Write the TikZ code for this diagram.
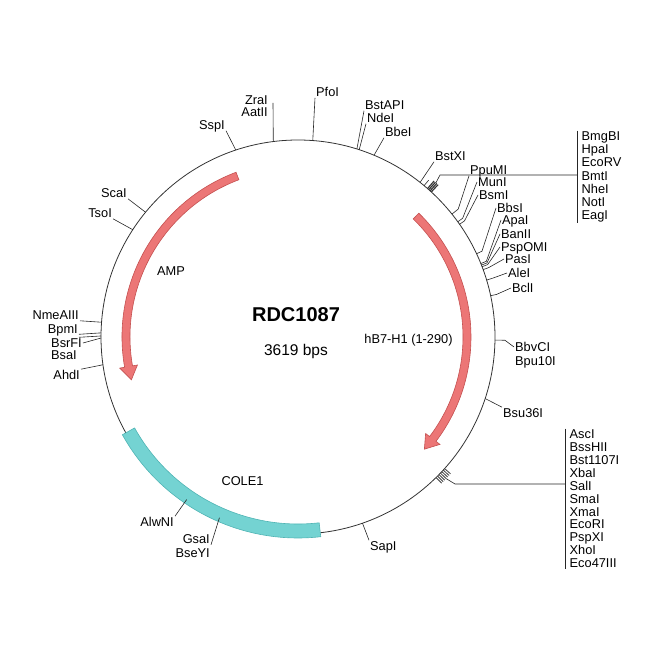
\documentclass[tikz,border=0pt]{standalone}
\usepackage{fontspec}
\setmainfont{Liberation Sans}

\definecolor{featred}{RGB}{236,118,118}
\definecolor{featredline}{RGB}{196,80,80}
\definecolor{featcyan}{RGB}{116,211,210}
\definecolor{featcyanline}{RGB}{80,180,180}

\tikzset{
  site/.style={font=\fontsize{12.8}{13.2}\selectfont,inner sep=1pt,text height=9.2pt,text depth=0pt},
  feat/.style={font=\fontsize{12.8}{15}\selectfont,inner sep=1pt,text height=9.2pt,text depth=0pt},
  sitelist/.style={font=\fontsize{12.8}{13.17}\selectfont,align=left,inner xsep=4.5pt,inner ysep=1pt},
  leader/.style={draw,line width=0.6pt,black!85}
}

\begin{document}
\begin{tikzpicture}[x=1pt,y=1pt]
  \useasboundingbox (-298,-313) rectangle (352,337);

  % backbone
  \draw[line width=0.8pt,black!80] (0,0) circle[radius=197pt];

  % features
  \filldraw[fill=featcyan,draw=featcyanline,line width=0.6pt]
    (209.1:201) arc[start angle=209.1,end angle=276.5,radius=201pt]
    -- (276.5:187) arc[start angle=276.5,end angle=209.1,radius=187pt] -- cycle;

  \filldraw[fill=featred,draw=featredline,line width=0.6pt]
    (110.6:176) arc[start angle=110.6,end angle=189.9,radius=176pt]
    -- (189.9:181) -- (194.4:172) -- (189.9:163) -- (189.9:168)
    arc[start angle=189.9,end angle=110.6,radius=168pt] -- cycle;

  \filldraw[fill=featred,draw=featredline,line width=0.6pt]
    (45.7:173) arc[start angle=45.7,end angle=-37.1,radius=173pt]
    -- (-37.1:178) -- (-41.6:169) -- (-37.1:160) -- (-37.1:165)
    arc[start angle=-37.1,end angle=45.7,radius=165pt] -- cycle;

  \node[feat] (amp) at (-127,66) {AMP};
  \node[feat] (cole) at (-55.5,-144) {COLE1};
  \node[feat] (hb7) at (110.5,-2.3) {hB7-H1 (1-290)};
  \node[font=\fontsize{20}{24}\selectfont\bfseries,inner sep=1pt] (name) at (-2,22) {RDC1087};
  \node[font=\fontsize{15.5}{18}\selectfont,anchor=base,inner sep=1pt] (size) at (-2,-19) {3619 bps};

  % cut sites, left half
  \begin{scope}[every node/.style={site,anchor=east}]
    \node (sspI)    at (-72,212)   {SspI};
    \node (zraI)    at (-29,237)   {ZraI};
    \node (aatII)   at (-29,225)   {AatII};
    \node (scaI)    at (-170,144)  {ScaI};
    \node (tsoI)    at (-185,124)  {TsoI};
    \node (nmeAIII) at (-218,22)   {NmeAIII};
    \node (bpmI)    at (-219,8.5)  {BpmI};
    \node (bsrFI)   at (-215,-6)   {BsrFI};
    \node (bsaI)    at (-220,-18)  {BsaI};
    \node (ahdI)    at (-217,-38)  {AhdI};
    \node (alwNI)   at (-123,-185) {AlwNI};
    \node (gsaI)    at (-87,-202)  {GsaI};
    \node (bseYI)   at (-87,-216)  {BseYI};
  \end{scope}

  % cut sites, right half
  \begin{scope}[every node/.style={site,anchor=west}]
    \node (pfoI)   at (17,245)   {PfoI};
    \node (bstAPI) at (66,232)   {BstAPI};
    \node (ndeI)   at (68,219)   {NdeI};
    \node (bbeI)   at (86,205)   {BbeI};
    \node (bstXI)  at (136,181)  {BstXI};
    \node (ppuMI)  at (171,167)  {PpuMI};
    \node (munI)   at (179,155)  {MunI};
    \node (bsmI)   at (180,142)  {BsmI};
    \node (bbsI)   at (198,129)  {BbsI};
    \node (apaI)   at (203,117)  {ApaI};
    \node (banII)  at (202,103)  {BanII};
    \node (pspOMI) at (202,90)   {PspOMI};
    \node (pasI)   at (206,78)   {PasI};
    \node (aleI)   at (209,64)   {AleI};
    \node (bclI)   at (213,49)   {BclI};
    \node (bbvCI)  at (216,-10)  {BbvCI};
    \node (bpu10I) at (216,-24)  {Bpu10I};
    \node (bsu36I) at (204,-76)  {Bsu36I};
    \node (sapI)   at (71,-209)  {SapI};
  \end{scope}

  % multiple cloning sites
  \node[sitelist,anchor=north west] (mcsA) at (279,206.4)
    {BmgBI\\HpaI\\EcoRV\\BmtI\\NheI\\NotI\\EagI};
  \node[sitelist,font=\fontsize{12.8}{12.9}\selectfont,anchor=north west] (mcsB) at (267,-91.6)
    {AscI\\BssHII\\Bst1107I\\XbaI\\SalI\\SmaI\\XmaI\\EcoRI\\PspXI\\XhoI\\Eco47III};

  \coordinate (zraI-e) at (-25,234);
  \coordinate (mcsA-k) at (142,162);
  \coordinate (mcsA-j) at (279,162);
  \coordinate (mcsB-k) at (157,-147);
  \coordinate (mcsB-j) at (267,-147);

  \begin{scope}[every edge/.style={leader}]
    \path (108.4:197) edge (sspI.south east);
    \path (97.2:197)  edge (zraI-e);
    \path (140.7:197) edge (scaI.south east);
    \path (147:197)   edge (tsoI.south east);
    \path (175.7:197) edge (nmeAIII.south east);
    \path (178.8:197) edge (bpmI.south east);
    \path (179.7:197) edge ([yshift=-3pt]bpmI.south east);
    \path (180.3:197) edge (bsrFI.east);
    \path (188.1:197) edge (ahdI.north east);
    \path (235.6:197) edge (alwNI.north east);
    \path (246.5:197) edge (gsaI.south east);
    \path (-70.9:197) edge (sapI.north west);
    \path (-18.2:197) edge (bsu36I.north west);
    \path (85.7:197)  edge (pfoI.south west);
    \path (72.6:197)  edge (bstAPI.south west);
    \path (71.9:197)  edge (ndeI.south west);
    \path (67.3:197)  edge (bbeI.south west);
    \path (51.7:197)  edge (bstXI.south west);
    \path (50.2:197)  edge (50.2:204);
  \end{scope}

  \draw[leader] (38.6:197) -- (38.6:205) -- (ppuMI.south west);
  \draw[leader] (35.8:197) -- (35.8:203) -- (munI.west);
  \draw[leader] (34.9:197) -- (34.9:203) -- (bsmI.west);
  \draw[leader] (25:197) -- (25:203) -- (bbsI.west);
  \draw[leader] (21.9:197) -- (21.9:203) -- (apaI.west);
  \draw[leader] (21.4:197) -- (21.4:203) -- (banII.west);
  \draw[leader] (20.9:197) -- (20.9:203) -- (pspOMI.west);
  \draw[leader] (20:197) -- (20:203) -- (pasI.west);
  \draw[leader] (16.8:197) -- (16.8:203) -- (aleI.west);
  \draw[leader] (12.1:197) -- (12.1:203) -- (bclI.west);
  \draw[leader] (-0.9:197) -- (-0.9:207) -- (bbvCI.west);

  % cluster blocks and brackets
  \draw[line width=1.1pt,black!80] (47.4:197) -- (47.4:207) (47.9:197) -- (47.9:207)
    (48.4:197) -- (48.4:207) (48.9:197) -- (48.9:207);
  \draw[leader] (48.2:207) -- (mcsA-k) -- (mcsA-j);
  \draw[leader] (mcsA.north west) -- (mcsA.south west);

  \draw[line width=0.8pt,black!75] (-45.5:197) -- (-45.5:205) (-44.9:197) -- (-44.9:205)
    (-44.3:197) -- (-44.3:205) (-43.7:197) -- (-43.7:205) (-43.1:197) -- (-43.1:205)
    (-42.5:197) -- (-42.5:205) (-41.9:197) -- (-41.9:205);
  \draw[leader] (-43.7:205) -- (mcsB-k) -- (mcsB-j);
  \draw[leader] (mcsB.north west) -- (mcsB.south west);

\end{tikzpicture}
\end{document}
